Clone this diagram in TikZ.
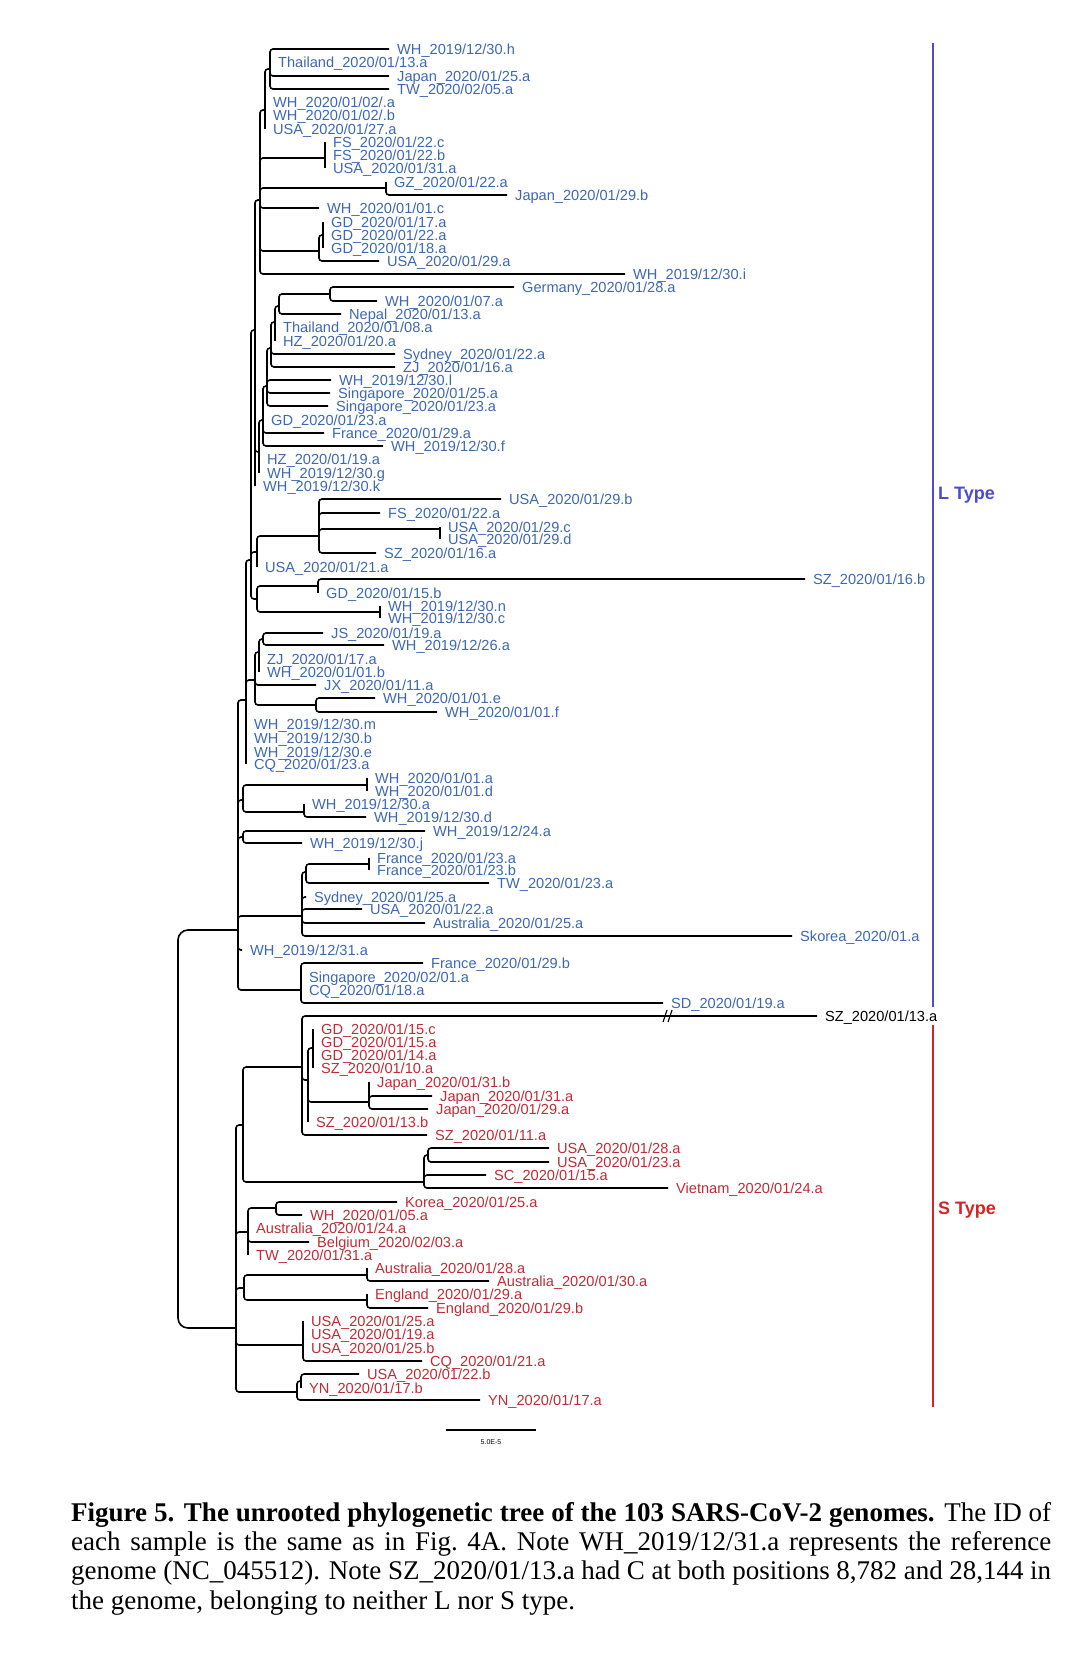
\documentclass[tikz,border=0pt]{standalone}
\usepackage{fontspec}
\setmainfont{Liberation Serif}
\setsansfont{Liberation Sans}

\definecolor{lblue}{RGB}{62,104,178}
\definecolor{sred}{RGB}{190,45,55}
\definecolor{barblue}{RGB}{75,75,215}
\definecolor{barred}{RGB}{215,35,35}

\tikzset{
  branch/.style={line width=1.6pt, rounded corners=3pt},
  rootbranch/.style={line width=1.6pt, rounded corners=10pt},
  lc/.style={text=lblue},
  lab/.style={anchor=west, inner xsep=8pt, inner ysep=0pt, text height=10.5pt, text depth=0pt,
    font=\sffamily\fontsize{14.6}{15}\selectfont, lc},
  typelab/.style={anchor=west, inner sep=0pt, font=\sffamily\bfseries\fontsize{18}{18}\selectfont},
}
% tip with a branch, and tip sitting on its parent
\newcommand{\leaf}[5]{\node[lab] (#1) at (#3,#4) {#5}; \draw[branch] (#2) |- (#1.west);}
\newcommand{\zleaf}[4]{\node[lab] (#1) at (#2 |- 0,#3) {#4}; \draw[branch] (#2) -- (#1.west);}

\begin{document}
\begin{tikzpicture}[x=1pt,y=-1pt]
    \path[use as bounding box, fill=white] (0,0) rectangle (1079,1672);

    % inner nodes
    \coordinate (R) at (178,1130);
    \coordinate (Lr) at (238,930);
    \coordinate (B1) at (270,69);
    \coordinate (B2) at (265,110);
    \coordinate (B3) at (260,200);
    \coordinate (FS) at (325,158);
    \coordinate (GZJ) at (386,188);
    \coordinate (GDG) at (319,251);
    \coordinate (GD3) at (323,235);
    \coordinate (G1) at (330,294);
    \coordinate (G2) at (279,306);
    \coordinate (G3) at (275,322);
    \coordinate (G4) at (271,348);
    \coordinate (G5) at (267,386);
    \coordinate (G6) at (263,420);
    \coordinate (G7) at (259,452);
    \coordinate (K2) at (255,330);
    \coordinate (U2) at (440,529);
    \coordinate (U1) at (319,536);
    \coordinate (U0) at (257,552);
    \coordinate (Q) at (318,586);
    \coordinate (N) at (380,612);
    \coordinate (Q0) at (257,599);
    \coordinate (K3) at (251,560);
    \coordinate (JS) at (263,639);
    \coordinate (J2) at (259,652);
    \coordinate (EF) at (316,705);
    \coordinate (J3) at (255,680);
    \coordinate (K4) at (246,700);
    \coordinate (A0) at (243,800);
    \coordinate (AD) at (367,785);
    \coordinate (AE2) at (304,812);
    \coordinate (W) at (243,837);
    \coordinate (Fr) at (369,864);
    \coordinate (F1) at (306,872);
    \coordinate (F2) at (302,916);
    \coordinate (SG) at (301,990);
    \coordinate (Sroot) at (236,1328);
    \coordinate (S2) at (243,1125);
    \coordinate (S1) at (302,1067);
    \coordinate (SL) at (308,1080);
    \coordinate (SL2) at (313,1048);
    \coordinate (JP) at (369,1102);
    \coordinate (VG) at (424,1182);
    \coordinate (VG2) at (428,1155);
    \coordinate (KW) at (276,1208);
    \coordinate (KB) at (248,1232);
    \coordinate (AU) at (367,1275);
    \coordinate (EN) at (367,1300);
    \coordinate (AE) at (244,1288);
    \coordinate (US) at (303,1345);
    \coordinate (YN2) at (301,1381);
    \coordinate (YN) at (297,1392);

    \draw[rootbranch] (R) |- (Lr);
    \draw[rootbranch] (R) |- (Sroot);

    % L type
    \draw[branch] (B2) |- (B1);
    \draw[branch] (B3) |- (B2);
    \draw[branch] (B3) |- (FS);
    \draw[branch] (B3) |- (GZJ);
    \draw[branch] (B3) |- (GDG);
    \draw[branch] (GDG) |- (GD3);
    \draw[branch] (K2) |- (B3);
    \draw[branch] (K2) |- (G7);
    \draw[branch] (G7) |- (G6);
    \draw[branch] (G6) |- (G5);
    \draw[branch] (G5) |- (G4);
    \draw[branch] (G4) |- (G3);
    \draw[branch] (G3) |- (G2);
    \draw[branch] (G2) |- (G1);
    \draw[branch] (K3) |- (K2);
    \draw[branch] (K3) |- (U0);
    \draw[branch] (K3) |- (Q0);
    \draw[branch] (U0) |- (U1);
    \draw[branch] (U1) |- (U2);
    \draw[branch] (Q0) |- (Q);
    \draw[branch] (Q0) |- (N);
    \draw[branch] (K4) |- (K3);
    \draw[branch] (K4) |- (J3);
    \draw[branch] (J3) |- (J2);
    \draw[branch] (J2) |- (JS);
    \draw[branch] (J3) |- (EF);
    \draw[branch] (Lr) |- (K4);
    \draw[branch] (Lr) |- (A0);
    \draw[branch] (A0) |- (AD);
    \draw[branch] (A0) |- (AE2);
    \draw[branch] (Lr) |- (W);
    \draw[branch] (Lr) |- (F2);
    \draw[branch] (F2) |- (F1);
    \draw[branch] (F1) |- (Fr);
    \draw[branch] (Lr) |- (SG);

    \leaf{t1}{B1}{389}{49}{WH\_2019/12/30.h}
    \zleaf{t2}{B1}{62}{Thailand\_2020/01/13.a}
    \leaf{t3}{B1}{389}{76}{Japan\_2020/01/25.a}
    \leaf{t4}{B1}{389}{89}{TW\_2020/02/05.a}
    \zleaf{t5}{B2}{102}{WH\_2020/01/02/.a}
    \zleaf{t6}{B2}{115}{WH\_2020/01/02/.b}
    \zleaf{t7}{B2}{129}{USA\_2020/01/27.a}
    \zleaf{t8}{FS}{142}{FS\_2020/01/22.c}
    \zleaf{t9}{FS}{155}{FS\_2020/01/22.b}
    \zleaf{t10}{FS}{168}{USA\_2020/01/31.a}
    \zleaf{t11}{GZJ}{182}{GZ\_2020/01/22.a}
    \leaf{t12}{GZJ}{507}{195}{Japan\_2020/01/29.b}
    \leaf{t13}{B3}{319}{208}{WH\_2020/01/01.c}
    \zleaf{t14}{GD3}{222}{GD\_2020/01/17.a}
    \zleaf{t15}{GD3}{235}{GD\_2020/01/22.a}
    \zleaf{t16}{GD3}{248}{GD\_2020/01/18.a}
    \leaf{t17}{GDG}{379}{261}{USA\_2020/01/29.a}
    \leaf{t18}{B3}{625}{274}{WH\_2019/12/30.i}
    \leaf{t19}{G1}{514}{287}{Germany\_2020/01/28.a}
    \leaf{t20}{G1}{377}{301}{WH\_2020/01/07.a}
    \leaf{t21}{G2}{341}{314}{Nepal\_2020/01/13.a}
    \zleaf{t22}{G3}{327}{Thailand\_2020/01/08.a}
    \zleaf{t23}{G3}{341}{HZ\_2020/01/20.a}
    \leaf{t24}{G4}{395}{354}{Sydney\_2020/01/22.a}
    \leaf{t25}{G4}{395}{367}{ZJ\_2020/01/16.a}
    \leaf{t26}{G5}{331}{380}{WH\_2019/12/30.l}
    \leaf{t27}{G5}{330}{393}{Singapore\_2020/01/25.a}
    \leaf{t28}{G5}{328}{406}{Singapore\_2020/01/23.a}
    \zleaf{t29}{G6}{420}{GD\_2020/01/23.a}
    \leaf{t30}{G6}{324}{433}{France\_2020/01/29.a}
    \leaf{t31}{G6}{383}{446}{WH\_2019/12/30.f}
    \zleaf{t32}{G7}{459}{HZ\_2020/01/19.a}
    \zleaf{t33}{G7}{473}{WH\_2019/12/30.g}
    \zleaf{t34}{K2}{486}{WH\_2019/12/30.k}
    \leaf{t35}{U1}{501}{499}{USA\_2020/01/29.b}
    \leaf{t36}{U1}{380}{513}{FS\_2020/01/22.a}
    \zleaf{t37}{U2}{527}{USA\_2020/01/29.c}
    \zleaf{t38}{U2}{539}{USA\_2020/01/29.d}
    \leaf{t39}{U1}{376}{553}{SZ\_2020/01/16.a}
    \zleaf{t40}{U0}{567}{USA\_2020/01/21.a}
    \leaf{t41}{Q}{805}{579}{SZ\_2020/01/16.b}
    \zleaf{t42}{Q}{593}{GD\_2020/01/15.b}
    \zleaf{t43}{N}{606}{WH\_2019/12/30.n}
    \zleaf{t44}{N}{618}{WH\_2019/12/30.c}
    \leaf{t45}{JS}{323}{633}{JS\_2020/01/19.a}
    \leaf{t46}{JS}{384}{645}{WH\_2019/12/26.a}
    \zleaf{t47}{J2}{659}{ZJ\_2020/01/17.a}
    \zleaf{t48}{J2}{672}{WH\_2020/01/01.b}
    \leaf{t49}{J3}{316}{685}{JX\_2020/01/11.a}
    \leaf{t50}{EF}{375}{698}{WH\_2020/01/01.e}
    \leaf{t51}{EF}{437}{712}{WH\_2020/01/01.f}
    \zleaf{t52}{K4}{724}{WH\_2019/12/30.m}
    \zleaf{t53}{K4}{738}{WH\_2019/12/30.b}
    \zleaf{t54}{K4}{752}{WH\_2019/12/30.e}
    \zleaf{t55}{K4}{764}{CQ\_2020/01/23.a}
    \zleaf{t56}{AD}{778}{WH\_2020/01/01.a}
    \zleaf{t57}{AD}{791}{WH\_2020/01/01.d}
    \zleaf{t58}{AE2}{804}{WH\_2019/12/30.a}
    \leaf{t59}{AE2}{366}{817}{WH\_2019/12/30.d}
    \leaf{t60}{W}{425}{831}{WH\_2019/12/24.a}
    \leaf{t61}{W}{302}{843}{WH\_2019/12/30.j}
    \zleaf{t62}{Fr}{858}{France\_2020/01/23.a}
    \zleaf{t63}{Fr}{870}{France\_2020/01/23.b}
    \leaf{t64}{F1}{489}{883}{TW\_2020/01/23.a}
    \leaf{t65}{F2}{306}{897}{Sydney\_2020/01/25.a}
    \leaf{t66}{F2}{362}{909}{USA\_2020/01/22.a}
    \leaf{t67}{F2}{425}{923}{Australia\_2020/01/25.a}
    \leaf{t68}{F2}{792}{936}{Skorea\_2020/01.a}
    \leaf{t69}{Lr}{242}{950}{WH\_2019/12/31.a}
    \leaf{t70}{SG}{423}{963}{France\_2020/01/29.b}
    \zleaf{t71}{SG}{977}{Singapore\_2020/02/01.a}
    \zleaf{t72}{SG}{990}{CQ\_2020/01/18.a}
    \leaf{t73}{SG}{663}{1003}{SD\_2020/01/19.a}

    % neither L nor S
    \node[lab, text=black] (t74) at (817,1016) {SZ\_2020/01/13.a};
    \draw[branch] (S1) |- (t74.west);
    \coordinate (brk) at (668,1016);
    \draw[line width=1.1pt] ([shift={(-5,6)}]brk) -- ([shift={(-1,-6)}]brk);
    \draw[line width=1.1pt] ([shift={(0,6)}]brk) -- ([shift={(4,-6)}]brk);

    % S type
    \draw[branch] (Sroot) |- (S2);
    \draw[branch] (S2) |- (S1);
    \draw[branch] (S1) |- (SL);
    \draw[branch] (SL) |- (SL2);
    \draw[branch] (SL) |- (JP);
    \draw[branch] (S2) |- (VG);
    \draw[branch] (VG) |- (VG2);
    \draw[branch] (Sroot) |- (KB);
    \draw[branch] (KB) |- (KW);
    \draw[branch] (Sroot) |- (AE);
    \draw[branch] (AE) |- (AU);
    \draw[branch] (AE) |- (EN);
    \draw[branch] (Sroot) |- (US);
    \draw[branch] (Sroot) |- (YN);
    \draw[branch] (YN) |- (YN2);

    \begin{scope}[lc/.style={text=sred}]
    \zleaf{t75}{SL2}{1029}{GD\_2020/01/15.c}
    \zleaf{t76}{SL2}{1042}{GD\_2020/01/15.a}
    \zleaf{t77}{SL2}{1055}{GD\_2020/01/14.a}
    \zleaf{t78}{SL2}{1068}{SZ\_2020/01/10.a}
    \zleaf{t79}{JP}{1082}{Japan\_2020/01/31.b}
    \leaf{t80}{JP}{432}{1096}{Japan\_2020/01/31.a}
    \leaf{t81}{JP}{428}{1109}{Japan\_2020/01/29.a}
    \zleaf{t82}{SL}{1122}{SZ\_2020/01/13.b}
    \leaf{t83}{S1}{427}{1135}{SZ\_2020/01/11.a}
    \leaf{t84}{VG2}{549}{1148}{USA\_2020/01/28.a}
    \leaf{t85}{VG2}{549}{1162}{USA\_2020/01/23.a}
    \leaf{t86}{VG}{486}{1175}{SC\_2020/01/15.a}
    \leaf{t87}{VG}{668}{1188}{Vietnam\_2020/01/24.a}
    \leaf{t88}{KW}{397}{1202}{Korea\_2020/01/25.a}
    \leaf{t89}{KW}{302}{1215}{WH\_2020/01/05.a}
    \zleaf{t90}{KB}{1228}{Australia\_2020/01/24.a}
    \leaf{t91}{KB}{309}{1242}{Belgium\_2020/02/03.a}
    \zleaf{t92}{KB}{1255}{TW\_2020/01/31.a}
    \zleaf{t93}{AU}{1268}{Australia\_2020/01/28.a}
    \leaf{t94}{AU}{489}{1281}{Australia\_2020/01/30.a}
    \zleaf{t95}{EN}{1294}{England\_2020/01/29.a}
    \leaf{t96}{EN}{428}{1308}{England\_2020/01/29.b}
    \zleaf{t97}{US}{1321}{USA\_2020/01/25.a}
    \zleaf{t98}{US}{1334}{USA\_2020/01/19.a}
    \zleaf{t99}{US}{1348}{USA\_2020/01/25.b}
    \leaf{t100}{US}{422}{1361}{CQ\_2020/01/21.a}
    \leaf{t101}{YN2}{359}{1374}{USA\_2020/01/22.b}
    \zleaf{t102}{YN2}{1388}{YN\_2020/01/17.b}
    \leaf{t103}{YN}{480}{1400}{YN\_2020/01/17.a}
    \end{scope}

    % type bars
    \coordinate (lt) at (933,43);
    \coordinate (lb) at (933,1007);
    \coordinate (st) at (933,1025);
    \coordinate (sb) at (933,1407);
    \draw[barblue, line width=2.4pt] (lt) -- (lb);
    \draw[barred, line width=2.4pt] (st) -- (sb);
    \node[typelab, text=barblue] (ltype) at (938,495) {L Type};
    \node[typelab, text=barred] (stype) at (938,1210) {S Type};

    % scale
    \coordinate (sc1) at (446,1430);
    \coordinate (sc2) at (536,1430);
    \draw[line width=1.3pt] (sc1) -- (sc2);
    \node[font=\sffamily\fontsize{7}{7}\selectfont, inner sep=0pt] (sclab) at (491,1442) {5.0E-5};

    % caption
    \node[anchor=base west, inner sep=0pt, align=left, font=\fontsize{27}{29.3}\selectfont] (cap) at (71,1609)
      {\makebox[980pt][s]{\textbf{Figure 5. The unrooted phylogenetic tree of the 103 SARS-CoV-2 genomes.} The ID of}\\
       \makebox[980pt][s]{each sample is the same as in Fig.~4A. Note WH\_2019/12/31.a represents the reference}\\
       \makebox[980pt][s]{genome (NC\_045512). Note SZ\_2020/01/13.a had C at both positions 8,782 and 28,144 in}\\
       the genome, belonging to neither L nor S type.};
\end{tikzpicture}
\end{document}
